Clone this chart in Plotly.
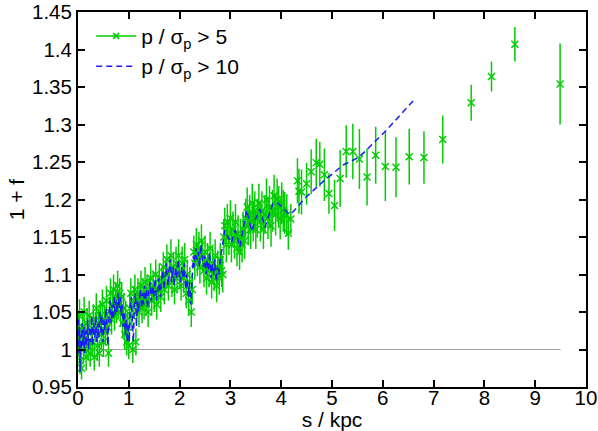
"""Clustering strength 1 + f versus separation s, two significance cuts."""

import plotly.graph_objects as go

# p / sigma_p > 5 sample (points with error bars)
green_s = [
    0.01, 0.03, 0.04, 0.06, 0.07, 0.09, 0.11, 0.12, 0.14, 0.16,
    0.18, 0.20, 0.22, 0.24, 0.26, 0.28, 0.30, 0.32, 0.34, 0.36,
    0.38, 0.40, 0.42, 0.44, 0.46, 0.48, 0.50, 0.52, 0.54, 0.56,
    0.58, 0.60, 0.62, 0.64, 0.66, 0.68, 0.70, 0.72, 0.74, 0.76,
    0.78, 0.80, 0.82, 0.84, 0.86, 0.88, 0.90, 0.92, 0.94, 0.96,
    0.98, 1.00, 1.02, 1.04, 1.06, 1.08, 1.10, 1.12, 1.14, 1.16,
    1.18, 1.20, 1.22, 1.24, 1.26, 1.28, 1.30, 1.32, 1.34, 1.36,
    1.38, 1.40, 1.43, 1.45, 1.48, 1.50, 1.53, 1.55, 1.58, 1.60,
    1.63, 1.65, 1.68, 1.70, 1.73, 1.75, 1.78, 1.80, 1.83, 1.85,
    1.88, 1.90, 1.93, 1.95, 1.98, 2.00, 2.03, 2.05, 2.08, 2.10,
    2.13, 2.15, 2.18, 2.20, 2.23, 2.25, 2.28, 2.30, 2.33, 2.35,
    2.38, 2.40, 2.43, 2.45, 2.48, 2.50, 2.53, 2.55, 2.58, 2.60,
    2.63, 2.65, 2.68, 2.70, 2.73, 2.75, 2.78, 2.80, 2.83, 2.85,
    2.87, 2.89, 2.92, 2.94, 2.97, 3.00, 3.02, 3.05, 3.08, 3.10,
    3.13, 3.15, 3.18, 3.20, 3.23, 3.25, 3.28, 3.30, 3.33, 3.35,
    3.38, 3.40, 3.43, 3.45, 3.48, 3.50, 3.53, 3.56, 3.59, 3.62,
    3.65, 3.68, 3.71, 3.74, 3.77, 3.80, 3.83, 3.86, 3.89, 3.92,
    3.95, 3.98, 4.01, 4.04, 4.07, 4.11, 4.14, 4.19, 4.32, 4.35,
    4.40, 4.50, 4.59, 4.69, 4.76, 4.85, 4.94, 5.05, 5.16, 5.28,
    5.41, 5.54, 5.69, 5.86, 6.05, 6.26, 6.52, 6.81, 7.18, 7.74,
    8.14, 8.60, 9.49,
]
green_f = [
    1.020, 1.045, 0.985, 1.010, 0.975, 1.030, 1.000, 1.050, 1.015, 0.990,
    1.035, 1.005, 1.045, 0.995, 1.025, 1.010, 1.040, 0.990, 1.030, 1.055,
    1.005, 1.035, 0.995, 1.045, 1.020, 1.060, 1.010, 1.040, 1.025, 1.065,
    1.030, 0.995, 1.050, 1.075, 1.040, 1.060, 1.080, 1.045, 1.070, 1.055,
    1.085, 1.060, 1.075, 1.050, 1.070, 1.035, 1.055, 1.020, 1.045, 1.010,
    1.030, 1.005, 1.055, 1.075, 1.045, 1.000, 1.065, 1.080, 1.010, 1.060,
    1.075, 1.050, 1.070, 1.085, 1.055, 1.075, 1.060, 1.090, 1.065, 1.080,
    1.050, 1.075, 1.095, 1.065, 1.085, 1.070, 1.100, 1.060, 1.080, 1.095,
    1.070, 1.090, 1.110, 1.080, 1.100, 1.120, 1.085, 1.105, 1.125, 1.090,
    1.110, 1.080, 1.115, 1.095, 1.125, 1.100, 1.085, 1.115, 1.095, 1.120,
    1.075, 1.100, 1.065, 1.090, 1.050, 1.080, 1.130, 1.115, 1.140, 1.120,
    1.135, 1.110, 1.145, 1.125, 1.105, 1.130, 1.095, 1.120, 1.105, 1.135,
    1.090, 1.115, 1.100, 1.125, 1.085, 1.110, 1.095, 1.120, 1.105, 1.100,
    1.150, 1.165, 1.140, 1.170, 1.150, 1.175, 1.140, 1.160, 1.145, 1.170,
    1.135, 1.155, 1.130, 1.150, 1.140, 1.160, 1.145, 1.175, 1.190, 1.165,
    1.180, 1.160, 1.195, 1.170, 1.185, 1.160, 1.175, 1.195, 1.170, 1.185,
    1.160, 1.180, 1.200, 1.175, 1.190, 1.165, 1.185, 1.205, 1.180, 1.200,
    1.190, 1.175, 1.195, 1.185, 1.182, 1.179, 1.155, 1.174, 1.225, 1.211,
    1.210, 1.221, 1.237, 1.249, 1.247, 1.233, 1.208, 1.192, 1.228, 1.264,
    1.264, 1.254, 1.230, 1.259, 1.244, 1.243, 1.257, 1.256, 1.280, 1.329,
    1.364, 1.407, 1.354,
]
green_err = [
    0.030, 0.022, 0.018, 0.020, 0.015, 0.020, 0.018, 0.020, 0.020, 0.018,
    0.020, 0.020, 0.020, 0.018, 0.020, 0.020, 0.020, 0.018, 0.020, 0.020,
    0.020, 0.020, 0.018, 0.020, 0.020, 0.020, 0.020, 0.020, 0.020, 0.020,
    0.020, 0.018, 0.020, 0.020, 0.020, 0.020, 0.020, 0.020, 0.020, 0.020,
    0.020, 0.020, 0.020, 0.020, 0.020, 0.020, 0.020, 0.020, 0.020, 0.018,
    0.020, 0.018, 0.020, 0.020, 0.020, 0.018, 0.020, 0.020, 0.018, 0.020,
    0.020, 0.020, 0.020, 0.020, 0.020, 0.020, 0.020, 0.020, 0.020, 0.020,
    0.020, 0.020, 0.020, 0.020, 0.020, 0.020, 0.020, 0.020, 0.020, 0.020,
    0.020, 0.020, 0.020, 0.020, 0.020, 0.020, 0.020, 0.020, 0.022, 0.020,
    0.020, 0.020, 0.022, 0.020, 0.022, 0.020, 0.020, 0.022, 0.020, 0.022,
    0.020, 0.020, 0.020, 0.020, 0.020, 0.020, 0.022, 0.022, 0.022, 0.022,
    0.022, 0.022, 0.022, 0.022, 0.022, 0.022, 0.022, 0.022, 0.022, 0.022,
    0.022, 0.022, 0.022, 0.022, 0.022, 0.022, 0.022, 0.022, 0.022, 0.024,
    0.024, 0.024, 0.024, 0.024, 0.024, 0.024, 0.024, 0.024, 0.024, 0.024,
    0.024, 0.024, 0.024, 0.024, 0.024, 0.024, 0.024, 0.026, 0.026, 0.026,
    0.026, 0.026, 0.026, 0.026, 0.026, 0.026, 0.026, 0.026, 0.026, 0.026,
    0.026, 0.026, 0.028, 0.028, 0.028, 0.028, 0.028, 0.028, 0.028, 0.028,
    0.028, 0.028, 0.028, 0.028, 0.028, 0.028, 0.022, 0.020, 0.030, 0.030,
    0.030, 0.028, 0.030, 0.032, 0.030, 0.035, 0.027, 0.034, 0.038, 0.035,
    0.037, 0.040, 0.038, 0.038, 0.046, 0.040, 0.037, 0.035, 0.032, 0.024,
    0.020, 0.023, 0.054,
]

# p / sigma_p > 10 sample (dashed line)
blue_s = [
    0.01, 0.02, 0.03, 0.04, 0.05, 0.07, 0.08, 0.10, 0.12, 0.13,
    0.15, 0.17, 0.19, 0.21, 0.23, 0.25, 0.27, 0.29, 0.31, 0.33,
    0.35, 0.37, 0.39, 0.41, 0.43, 0.45, 0.47, 0.49, 0.51, 0.53,
    0.55, 0.57, 0.59, 0.61, 0.63, 0.65, 0.67, 0.69, 0.71, 0.73,
    0.75, 0.77, 0.79, 0.81, 0.83, 0.85, 0.87, 0.89, 0.91, 0.93,
    0.95, 0.97, 0.99, 1.01, 1.03, 1.05, 1.07, 1.09, 1.11, 1.13,
    1.15, 1.17, 1.19, 1.21, 1.23, 1.25, 1.27, 1.29, 1.31, 1.33,
    1.35, 1.37, 1.39, 1.42, 1.44, 1.47, 1.49, 1.52, 1.54, 1.57,
    1.59, 1.62, 1.64, 1.67, 1.69, 1.72, 1.74, 1.77, 1.79, 1.82,
    1.84, 1.87, 1.89, 1.92, 1.94, 1.97, 1.99, 2.02, 2.04, 2.07,
    2.09, 2.12, 2.14, 2.17, 2.19, 2.22, 2.24, 2.27, 2.29, 2.32,
    2.34, 2.37, 2.39, 2.42, 2.44, 2.47, 2.49, 2.52, 2.54, 2.57,
    2.59, 2.62, 2.64, 2.67, 2.69, 2.72, 2.74, 2.77, 2.80, 2.85,
    2.89, 2.95, 3.02, 3.09, 3.19, 3.26, 3.32, 3.42, 3.50, 3.58,
    3.68, 3.76, 3.84, 3.94, 4.05, 4.16, 4.24, 4.50, 4.86, 5.22,
    5.52, 5.68, 6.08, 6.63,
]
blue_f = [
    1.040, 0.995, 1.030, 0.970, 1.020, 1.000, 1.035, 1.005, 1.030, 0.995,
    1.025, 1.005, 1.040, 1.000, 1.030, 1.010, 1.045, 1.005, 1.035, 1.015,
    1.045, 1.010, 1.035, 1.015, 1.050, 1.020, 1.045, 1.010, 1.040, 1.025,
    1.055, 1.025, 1.005, 1.045, 1.065, 1.035, 1.060, 1.040, 1.070, 1.045,
    1.065, 1.050, 1.075, 1.055, 1.070, 1.045, 1.060, 1.030, 1.050, 1.020,
    1.040, 1.010, 1.035, 1.010, 1.060, 1.070, 1.040, 1.010, 1.060, 1.075,
    1.030, 1.065, 1.050, 1.070, 1.080, 1.055, 1.075, 1.060, 1.085, 1.065,
    1.080, 1.055, 1.075, 1.090, 1.065, 1.085, 1.070, 1.095, 1.065, 1.080,
    1.095, 1.070, 1.090, 1.105, 1.080, 1.100, 1.115, 1.085, 1.105, 1.120,
    1.090, 1.110, 1.085, 1.110, 1.095, 1.120, 1.100, 1.090, 1.110, 1.095,
    1.115, 1.080, 1.100, 1.070, 1.090, 1.060, 1.085, 1.125, 1.110, 1.135,
    1.120, 1.130, 1.110, 1.140, 1.125, 1.110, 1.125, 1.100, 1.120, 1.105,
    1.130, 1.095, 1.115, 1.100, 1.120, 1.090, 1.110, 1.100, 1.119, 1.140,
    1.159, 1.150, 1.142, 1.159, 1.137, 1.165, 1.186, 1.158, 1.175, 1.187,
    1.163, 1.180, 1.195, 1.195, 1.188, 1.180, 1.184, 1.204, 1.226, 1.246,
    1.256, 1.266, 1.293, 1.334,
]

# reference level 1 + f = 1
ref_s = [0.0, 9.5]
ref_f = [1.0, 1.0]

x_ticks = [0, 1, 2, 3, 4, 5, 6, 7, 8, 9, 10]
y_ticks = [0.95, 1.0, 1.05, 1.1, 1.15, 1.2, 1.25, 1.3, 1.35, 1.4, 1.45]
y_labels = ["0.95", "1", "1.05", "1.1", "1.15", "1.2", "1.25", "1.3", "1.35", "1.4", "1.45"]

GREEN = "#00cc00"
BLUE = "#1a1aff"
FONT = "Liberation Sans, Arial, sans-serif"

fig = go.Figure()

fig.add_trace(
    go.Scatter(
        x=ref_s,
        y=ref_f,
        mode="lines",
        line={"color": "#a0a0a0", "width": 1.2},
        showlegend=False,
        hoverinfo="skip",
    )
)

fig.add_trace(
    go.Scatter(
        x=green_s,
        y=green_f,
        mode="markers",
        marker={"symbol": "x-thin", "size": 7, "line": {"color": GREEN, "width": 1.5}, "color": GREEN},
        error_y={"type": "data", "array": green_err, "visible": True, "color": GREEN, "thickness": 1.5, "width": 0},
        showlegend=False,
    )
)

# legend stand-in for the points, drawn as gnuplot does (line with a cross)
fig.add_trace(
    go.Scatter(
        x=[None],
        y=[None],
        mode="lines+markers",
        name="p / σ<sub>p</sub> > 5",
        line={"color": GREEN, "width": 1.5},
        marker={"symbol": "x-thin", "size": 6, "line": {"color": GREEN, "width": 1.5}, "color": GREEN},
    )
)

fig.add_trace(
    go.Scatter(
        x=blue_s,
        y=blue_f,
        mode="lines",
        name="p / σ<sub>p</sub> > 10",
        line={"color": BLUE, "width": 1.5, "dash": "6px,4px"},
    )
)

axis_common = {
    "showgrid": False,
    "zeroline": False,
    "showline": True,
    "linecolor": "black",
    "linewidth": 2,
    "mirror": "ticks",
    "ticks": "inside",
    "ticklen": 7,
    "tickwidth": 2,
    "tickcolor": "black",
    "automargin": False,
    "tickfont": {"size": 20.5, "color": "black", "family": FONT},
}

fig.update_layout(
    width=598,
    height=431,
    margin={"l": 78, "r": 12, "t": 12, "b": 44},
    paper_bgcolor="white",
    plot_bgcolor="white",
    font={"family": FONT, "size": 20, "color": "black"},
    xaxis={
        **axis_common,
        "range": [0, 10],
        "tickvals": x_ticks,
        "ticklabelstandoff": -9,
        "title": {"text": "s / kpc", "font": {"size": 21}, "standoff": 4},
    },
    yaxis={
        **axis_common,
        "range": [0.95, 1.45],
        "tickvals": y_ticks,
        "ticktext": y_labels,
        "title": {"text": "1 + f", "font": {"size": 21}, "standoff": 2},
    },
    legend={
        "x": 0.026,
        "y": 0.99,
        "xanchor": "left",
        "yanchor": "top",
        "bgcolor": "rgba(0,0,0,0)",
        "font": {"size": 21},
        "tracegroupgap": 0,
        "itemwidth": 40,
    },
)

# the page body's default 8px margin would shift the figure inside the window
fig.write_html(
    "out.html",
    config={"displayModeBar": False},
    post_script="document.body.style.margin = '0';",
)
